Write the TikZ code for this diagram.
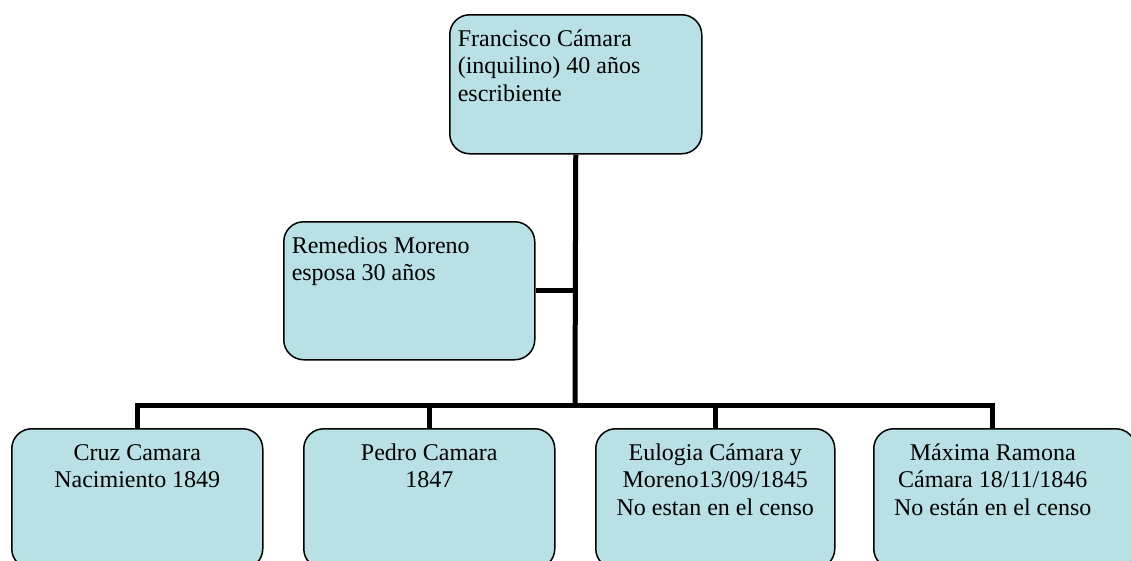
\documentclass[tikz,border=0pt]{standalone}
\usepackage{fontspec}
\setmainfont{Liberation Serif}
\definecolor{boxfill}{RGB}{185,224,228}
\begin{document}
\begin{tikzpicture}[x=1pt,y=-1pt,
  box/.style={draw=black, line width=1.5pt, fill=boxfill, rounded corners=20pt,
    anchor=north west, inner xsep=8pt, inner ysep=12pt,
    font=\fontsize{24}{27.5}\selectfont},
  conn/.style={line width=5pt, line join=miter}]
\useasboundingbox (0,0) rectangle (1131,560);
\clip (0,0) rectangle (1131,560);
\node[box] (top) at (449,14) {\parbox[t][115pt][t]{236pt}{\raggedright\strut Francisco Cámara\\(inquilino) 40 años\\escribiente}};
\node[box] (rem) at (283,221) {\parbox[t][114pt][t]{235pt}{\raggedright\strut Remedios Moreno\\esposa 30 años}};
\node[box] (c1) at (11,428) {\parbox[t][116pt][t]{235pt}{\centering\strut Cruz Camara\\Nacimiento 1849}};
\node[box] (c2) at (303,428) {\parbox[t][116pt][t]{235pt}{\centering\strut Pedro Camara\\1847}};
\node[box] (c3) at (595,428) {\parbox[t][116pt][t]{223pt}{\centering\strut Eulogia Cámara y\\Moreno13/09/1845\\No estan en el censo}};
\node[box] (c4) at (873,428) {\makebox[246pt][l]{\parbox[t][116pt][t]{222pt}{\centering\strut Máxima Ramona\\Cámara 18/11/1846\\No están en el censo}}};
\coordinate (bar) at (575,405);
\coordinate (d4) at (992,428);
\draw[conn] (top.south) -- (bar);
\draw[conn] (rem.east) -- (rem.east -| bar);
\draw[conn] (c1.north) |- (bar) -| (d4);
\draw[conn] (bar -| c2.north) -- (c2.north);
\draw[conn] (bar -| c3.north) -- (c3.north);
\end{tikzpicture}
\end{document}
